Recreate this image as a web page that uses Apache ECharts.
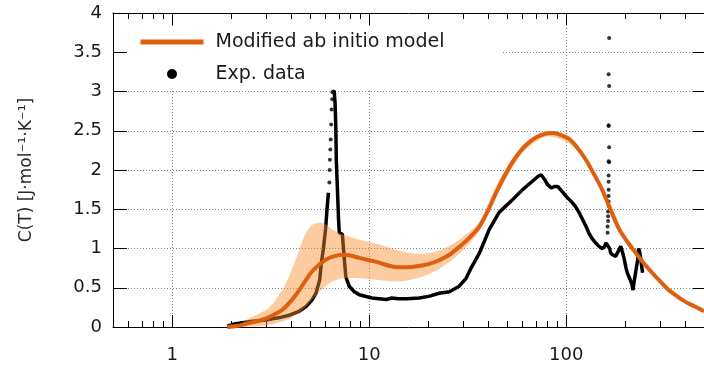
<!DOCTYPE html>
<html>
<head>
<meta charset="utf-8">
<script src="https://cdn.jsdelivr.net/npm/echarts@6/dist/echarts.min.js"></script>
<style>
  html, body { margin: 0; background: #fff; }
  #chart { width: 704px; height: 369px; }
</style>
</head>
<body>
<div id="chart"></div>
<script>
// model curve (T in K, C in J/mol/K)
const modelT = [1.9, 2.2, 2.46, 2.75, 3.0, 3.3, 3.62, 4.0, 4.41, 4.77, 5.13, 5.6, 6.03, 6.6, 7.3, 8.0, 8.9, 10, 11.2, 12.6, 14.2, 16, 18, 20, 22.6, 25.5, 28.6, 32, 36.2, 40, 44, 48.5, 53.3, 58.5, 64.6, 71, 78, 86, 95, 104, 114, 125, 138, 152, 168, 186, 205, 226, 248, 273, 300, 331, 365, 403, 450, 500];
const modelC = [0.0, 0.02, 0.05, 0.08, 0.11, 0.16, 0.22, 0.33, 0.47, 0.60, 0.71, 0.80, 0.86, 0.90, 0.92, 0.91, 0.88, 0.85, 0.82, 0.78, 0.76, 0.76, 0.78, 0.80, 0.85, 0.92, 1.02, 1.13, 1.28, 1.48, 1.71, 1.92, 2.10, 2.24, 2.35, 2.42, 2.46, 2.47, 2.44, 2.39, 2.28, 2.14, 1.95, 1.75, 1.49, 1.24, 1.08, 0.94, 0.81, 0.69, 0.58, 0.47, 0.39, 0.32, 0.26, 0.20];

// uncertainty band of the model
const bandT = [1.9, 2.2, 2.46, 2.75, 3.0, 3.3, 3.78, 4.1, 4.41, 4.77, 5.13, 5.57, 6.0, 6.5, 7.3, 8.9, 11.2, 14.2, 18, 22.6, 28.6, 36.2, 45, 60, 80, 110, 150, 200, 280, 400, 500];
const bandLow = [0.005, 0.005, 0.005, 0.01, 0.02, 0.04, 0.09, 0.13, 0.18, 0.26, 0.35, 0.44, 0.52, 0.58, 0.62, 0.62, 0.60, 0.58, 0.63, 0.74, 0.93, 1.22, 1.70, 2.22, 2.43, 2.29, 1.75, 1.09, 0.64, 0.30, 0.18];
const bandHigh = [0.005, 0.04, 0.11, 0.17, 0.22, 0.32, 0.56, 0.77, 0.98, 1.20, 1.30, 1.33, 1.31, 1.24, 1.18, 1.11, 1.05, 0.97, 0.93, 0.97, 1.11, 1.34, 1.84, 2.32, 2.50, 2.36, 1.81, 1.15, 0.68, 0.34, 0.22];

// experimental data
const expRiseT = [1.9, 2.07, 2.5, 2.99, 3.5, 3.93, 4.4, 4.77, 5.1, 5.36, 5.6, 5.7, 5.85, 6.0, 6.1, 6.2];
const expRiseC = [0.01, 0.04, 0.07, 0.09, 0.12, 0.15, 0.20, 0.26, 0.34, 0.43, 0.60, 0.80, 1.00, 1.25, 1.50, 1.71];
const expFallT = [6.63, 6.7, 6.76, 6.8, 6.9, 6.98, 7.04, 7.3, 7.45, 7.6, 7.9, 8.4, 8.9, 10.3, 12.2, 13, 14, 15.5, 17.9, 20, 22.6, 25.5, 28.6, 31, 33, 36.2, 40.6, 45.6, 53.3, 60, 67.5, 72, 74.5, 76, 77.6, 80, 83.9, 87, 90.5, 95, 99.4, 105, 111, 116, 121, 126, 130, 135, 141, 146, 152, 156, 159, 166, 168, 172, 178, 184, 189, 193, 197, 201, 204, 208, 212, 215, 218, 221, 226, 230, 233, 236, 239, 242, 244];
const expFallC = [3.01, 2.86, 2.56, 2.13, 1.71, 1.37, 1.20, 1.18, 0.90, 0.64, 0.52, 0.45, 0.41, 0.37, 0.35, 0.37, 0.36, 0.36, 0.37, 0.39, 0.43, 0.45, 0.52, 0.62, 0.76, 0.94, 1.24, 1.46, 1.62, 1.75, 1.86, 1.92, 1.94, 1.93, 1.88, 1.82, 1.77, 1.79, 1.79, 1.73, 1.67, 1.61, 1.54, 1.46, 1.37, 1.28, 1.20, 1.13, 1.07, 1.03, 1.00, 1.02, 1.07, 1.00, 0.94, 0.92, 0.90, 0.97, 1.03, 0.95, 0.86, 0.75, 0.69, 0.64, 0.64, 0.55, 0.47, 0.58, 0.73, 0.85, 1.00, 0.95, 0.86, 0.75, 0.69];
const dotT = [6.27, 6.29, 6.31, 6.34, 6.37, 6.4, 6.44, 6.48, 6.5, 6.58, 162, 162, 163, 163, 163, 164, 164, 164, 164, 164, 164, 165, 164, 165, 164, 164, 165, 164, 165];
const dotC = [1.84, 2.00, 2.13, 2.26, 2.39, 2.58, 2.77, 2.90, 2.99, 3.00, 1.20, 1.28, 1.35, 1.41, 1.47, 1.54, 1.60, 1.67, 1.75, 1.85, 1.93, 2.10, 2.11, 2.29, 2.56, 2.57, 3.07, 3.22, 3.68];

const xLabels = [1, 10, 100];
const xMinorTicks = [0.6, 0.7, 0.8, 0.9, 2, 3, 4, 5, 6, 7, 8, 9, 20, 30, 40, 50, 60, 70, 80, 90, 200, 300, 400];

const FONT = 'DejaVu Sans';
const TXT = '#1a1a1a';
const dotted = { color: '#808080', width: 1, type: [1, 2] };
const pairs = (xs, ys) => xs.map((x, i) => [x, ys[i]]);

const chart = echarts.init(document.getElementById('chart'), null, { renderer: 'canvas' });

const logAxis = (extra) => Object.assign({
  type: 'log', logBase: 10, min: 0.5, max: 500, gridIndex: 0,
  axisLine: { show: false },
  axisLabel: { show: false },
  splitLine: { show: false },
  axisTick: { show: false }
}, extra);

chart.setOption({
  animation: false,
  textStyle: { fontFamily: FONT },
  grid: { left: 113, right: 0, top: 13, bottom: 42, containLabel: false },
  legend: {
    orient: 'vertical', left: 128, top: 26,
    backgroundColor: '#fff',
    padding: [5, 58, 4, 10],
    itemWidth: 63, itemHeight: 10, itemGap: 10,
    textStyle: { fontFamily: FONT, fontSize: 19, color: TXT, lineHeight: 22, padding: [0, 0, 0, 7] },
    data: [
      { name: 'Modified ab initio model', lineStyle: { width: 5 }, itemStyle: { opacity: 0 } },
      { name: 'Exp. data', icon: 'circle' }
    ]
  },
  xAxis: [
    logAxis({
      position: 'bottom',
      axisLine: { show: true, lineStyle: { color: '#000', width: 1 } },
      axisTick: { show: true, inside: true, length: 12, lineStyle: { color: '#000' } },
      axisLabel: {
        show: true, margin: 19, fontSize: 18, color: TXT, fontFamily: FONT,
        showMinLabel: false, showMaxLabel: false,
        formatter: (v) => (xLabels.indexOf(Math.round(v)) >= 0 && Math.abs(v - Math.round(v)) < 1e-6 ? String(Math.round(v)) : '')
      },
      splitLine: { show: true, lineStyle: dotted }
    }),
    logAxis({
      position: 'bottom',
      axisTick: { show: true, inside: true, length: 6, customValues: xMinorTicks, lineStyle: { color: '#000' } }
    }),
    logAxis({
      position: 'top',
      axisLine: { show: true, lineStyle: { color: '#000', width: 1 } },
      axisTick: { show: true, inside: true, length: 12, lineStyle: { color: '#000' } }
    }),
    logAxis({
      position: 'top',
      axisTick: { show: true, inside: true, length: 6, customValues: xMinorTicks, lineStyle: { color: '#000' } }
    })
  ],
  yAxis: [
    {
      type: 'value', min: 0, max: 4, interval: 0.5, position: 'left',
      name: 'C(T) [J·mol⁻¹·K⁻¹]', nameLocation: 'middle', nameGap: 78, nameRotate: 90,
      nameTextStyle: { fontFamily: FONT, fontSize: 17, color: '#2a2a2a' },
      axisLine: { show: true, lineStyle: { color: '#000', width: 1 } },
      axisTick: { show: true, inside: true, length: 14, lineStyle: { color: '#000' } },
      axisLabel: { margin: 11, fontSize: 18, color: TXT, fontFamily: FONT },
      splitLine: { show: true, lineStyle: dotted }
    },
    {
      type: 'value', min: 0, max: 4, interval: 0.5, position: 'right',
      axisLine: { show: true, lineStyle: { color: '#000', width: 1 } },
      axisTick: { show: true, inside: true, length: 11, lineStyle: { color: '#000' } },
      axisLabel: { show: false },
      splitLine: { show: false }
    }
  ],
  series: [
    {
      name: 'Exp. data', type: 'line', z: 2, symbol: 'none',
      data: pairs(expRiseT, expRiseC),
      lineStyle: { color: '#000', width: 3.5 }, itemStyle: { color: '#000' }
    },
    {
      name: 'Exp. data', type: 'line', z: 2, symbol: 'none',
      data: pairs(expFallT, expFallC),
      lineStyle: { color: '#000', width: 3.5 }, itemStyle: { color: '#000' }
    },
    {
      name: 'Exp. data', type: 'scatter', z: 2, symbolSize: 4,
      data: pairs(dotT, dotC),
      itemStyle: { color: '#000' }
    },
    {
      name: 'band', type: 'custom', z: 3, silent: true,
      data: bandT.map((t, i) => [t, bandLow[i], bandHigh[i]]),
      encode: { x: 0, y: [1, 2] },
      renderItem: (params, api) => {
        if (params.dataIndex !== 0) return null;
        const pts = [];
        for (let i = 0; i < bandT.length; i++) pts.push(api.coord([bandT[i], bandHigh[i]]));
        for (let i = bandT.length - 1; i >= 0; i--) pts.push(api.coord([bandT[i], bandLow[i]]));
        return { type: 'polygon', shape: { points: pts, smooth: 0.25 }, style: { fill: 'rgba(250,140,45,0.45)' } };
      }
    },
    {
      name: 'Modified ab initio model', type: 'line', z: 4, symbol: 'none', smooth: 0.3,
      data: pairs(modelT, modelC),
      lineStyle: { color: '#dc6010', width: 4 }, itemStyle: { color: '#dc6010' }
    }
  ]
});
</script>
</body>
</html>
